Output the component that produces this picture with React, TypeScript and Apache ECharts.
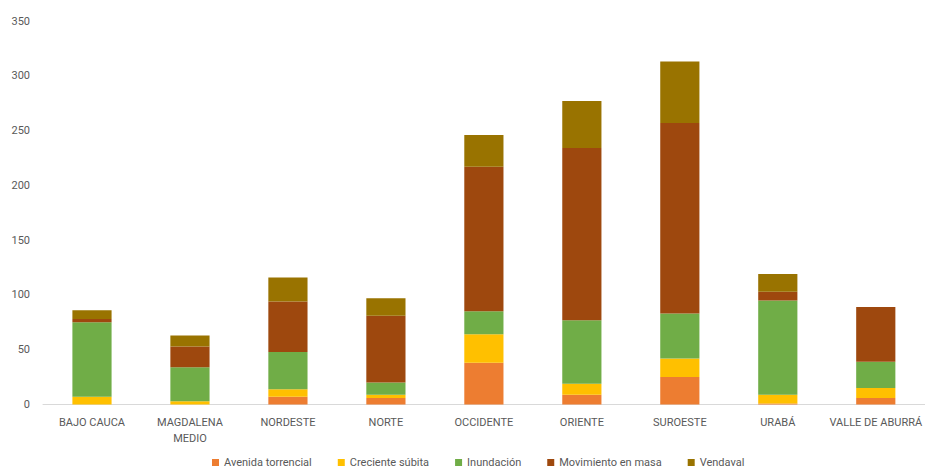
import React, { useEffect, useRef } from "react";
import * as echarts from "echarts";

const categories = [
  "BAJO CAUCA",
  "MAGDALENA\nMEDIO",
  "NORDESTE",
  "NORTE",
  "OCCIDENTE",
  "ORIENTE",
  "SUROESTE",
  "URABÁ",
  "VALLE DE ABURRÁ",
];

const avenidaTorrencial = [0, 0, 7, 6, 38, 9, 25, 1, 6];
const crecienteSubita = [7, 3, 7, 3, 26, 10, 17, 8, 9];
const inundacion = [68, 31, 34, 11, 21, 58, 41, 86, 24];
const movimientoEnMasa = [3, 19, 46, 61, 132, 157, 174, 8, 50];
const vendaval = [8, 10, 22, 16, 29, 43, 56, 16, 0];

const seriesNames = [
  "Avenida torrencial",
  "Creciente súbita",
  "Inundación",
  "Movimiento en masa",
  "Vendaval",
];
const seriesColors = ["#ED7D31", "#FFC000", "#70AD47", "#9E480E", "#997300"];
const seriesData = [avenidaTorrencial, crecienteSubita, inundacion, movimientoEnMasa, vendaval];

const yTicks = { min: 0, max: 350, interval: 50 };

export default function App() {
  const ref = useRef<HTMLDivElement>(null);

  useEffect(() => {
    if (!ref.current) return;
    const chart = echarts.init(ref.current, undefined, { renderer: "svg" });
    const font = "Roboto, 'Liberation Sans', sans-serif";
    chart.setOption({
      animation: false,
      backgroundColor: "#FFFFFF",
      textStyle: { fontFamily: font },
      grid: { left: 43, right: -2, top: 21, bottom: 68.5, containLabel: false },
      legend: {
        data: seriesNames,
        left: 207,
        top: 452,
        itemWidth: 7,
        itemHeight: 7,
        itemGap: 26,
        icon: "rect",
        textStyle: { fontSize: 11, color: "#595959", fontFamily: font },
      },
      xAxis: {
        type: "category",
        data: categories,
        axisLine: { show: true, lineStyle: { color: "#D9D9D9", width: 1 } },
        axisTick: { show: false },
        axisLabel: {
          interval: 0,
          color: "#595959",
          fontSize: 11,
          fontFamily: font,
          margin: 10,
          lineHeight: 16,
        },
      },
      yAxis: {
        type: "value",
        min: yTicks.min,
        max: yTicks.max,
        interval: yTicks.interval,
        axisLine: { show: false },
        axisTick: { show: false },
        splitLine: { show: false },
        axisLabel: { color: "#595959", fontSize: 11, fontFamily: font, margin: 13 },
      },
      series: seriesNames.map((name, i) => ({
        name,
        type: "bar",
        stack: "total",
        barWidth: "40%",
        data: seriesData[i],
        itemStyle: { color: seriesColors[i] },
      })),
    });
    return () => chart.dispose();
  }, []);

  return (
    <div
      ref={ref}
      style={{ position: "fixed", left: 0, top: 0, width: 925, height: 473 }}
    />
  );
}
